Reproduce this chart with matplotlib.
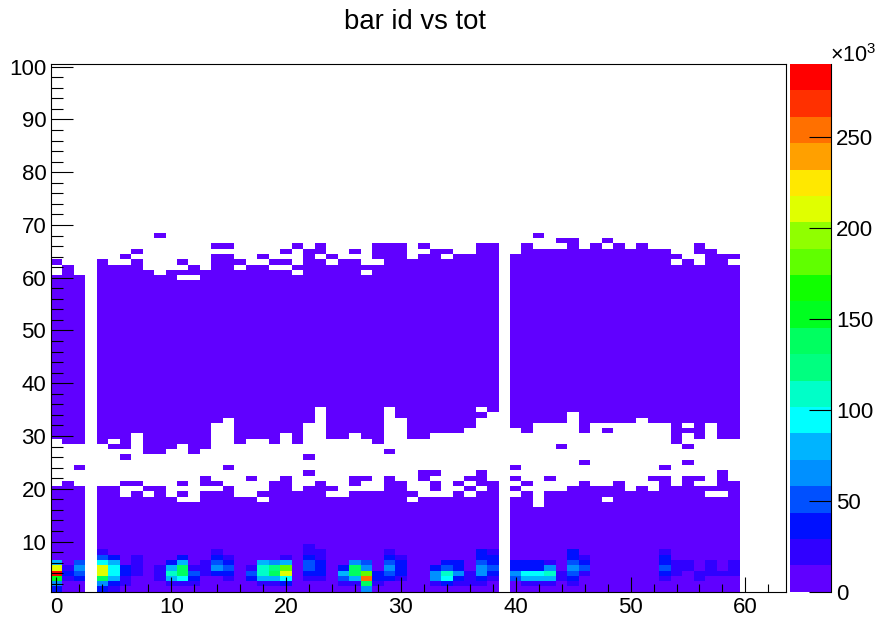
#!/usr/bin/env python3
"""
Render the bar id vs tot occupancy map (colz style) to out.png.
"""

import numpy as np
import matplotlib
matplotlib.use("Agg")
import matplotlib.pyplot as plt
from matplotlib.colors import ListedColormap, Normalize
from matplotlib.ticker import MultipleLocator

plt.rcParams["font.family"] = ["Liberation Sans", "DejaVu Sans"]
plt.rcParams["mathtext.default"] = "regular"

TITLE = "bar id vs tot"
N_COLS = 64
N_ROWS = 100
Z_MAX = 290.0
LOW_COUNT = 3.0  # thousands, everything outside the hot rows

# one entry per tot bin 0..59, None = empty column
LOWER_TOP = [20, 21, 20, None, 20, 20, 21, 21, 20, 20, 18, 21, 17, 22, 21, 20, 18, 18, 19, 21,
             22, 19, 20, 21, 20, 18, 22, 22, 19, 22, 21, 19, 23, 23, 18, 21, 22, 23, 21, None,
             24, 21, 16, 22, 19, 20, 21, 20, 20, 21, 19, 20, 22, 22, 20, 22, 22, 20, 23, 21]
UPPER_START = [30, 29, 29, None, 29, 30, 28, 31, 27, 27, 28, 29, 27, 28, 33, 34, 29, 30, 30, 29,
               31, 29, 33, 36, 30, 30, 31, 30, 29, 36, 34, 30, 30, 31, 31, 31, 32, 36, 35, None,
               32, 31, 33, 33, 33, 35, 31, 33, 33, 33, 33, 34, 33, 33, 29, 33, 30, 33, 30, 30]
UPPER_TOP = [60, 62, 60, None, 63, 62, 62, 63, 61, 60, 61, 61, 62, 61, 64, 64, 61, 62, 62, 61,
             61, 60, 65, 63, 62, 63, 63, 62, 62, 66, 66, 63, 64, 65, 63, 64, 64, 66, 66, None,
             64, 66, 65, 65, 65, 67, 65, 66, 65, 66, 65, 66, 65, 65, 62, 63, 62, 65, 64, 62]

# isolated filled bins (col, row) outside the two bands
EXTRA_BINS = [(0, 63), (6, 64), (7, 65), (9, 68), (11, 63), (14, 66), (15, 66), (16, 63), (18, 64),
              (19, 63), (20, 63), (20, 65), (21, 62), (21, 66), (23, 65), (23, 66), (24, 64), (26, 65),
              (28, 64), (28, 65), (28, 66), (32, 66), (34, 65), (42, 68), (44, 67), (48, 67), (56, 65),
              (56, 66), (54, 64), (59, 64),
              (5, 28), (37, 34), (48, 31), (55, 31), (55, 28), (55, 25),
              (6, 26), (22, 26), (29, 27), (2, 24), (15, 24), (22, 23), (17, 22),
              (44, 28), (46, 25), (40, 24), (53, 24)]

# empty bins (col, row) inside the two bands
HOLE_BINS = [(6, 20), (6, 19), (7, 20), (8, 19), (11, 20), (11, 18), (13, 20), (14, 20), (18, 18),
             (24, 19), (26, 20), (27, 21), (27, 20), (31, 18), (32, 21), (32, 20), (32, 19),
             (33, 22), (33, 19), (35, 20), (36, 21), (36, 19), (37, 20), (40, 23), (40, 21),
             (40, 19), (41, 20), (43, 21), (43, 20), (48, 18), (52, 21), (52, 20), (56, 21),
             (57, 19), (58, 19), (11, 60), (12, 60), (27, 61), (37, 35)]

# counts in thousands for rows 1,2,3... of the columns that stand out at low bar id
HOT_ROWS = {
    0: [37, 66, 154, 286, 212, 81],
    1: [3, 3, 22, 37, 22],
    2: [3, 3, 37, 51, 66, 51],
    4: [30, 66, 139, 212, 212, 95, 51, 22],
    5: [22, 37, 81, 95, 95, 81, 37],
    6: [3, 22, 22, 37, 37],
    7: [3, 3, 3, 22, 22, 22, 22],
    9: [3, 3, 22, 22, 22],
    10: [3, 22, 81, 110, 81, 37],
    11: [3, 22, 95, 139, 139, 81, 37],
    12: [3, 22, 37, 51, 22],
    13: [3, 3, 3, 22, 22, 22],
    14: [3, 3, 3, 37, 66, 51, 37, 22],
    15: [3, 3, 22, 37, 51, 37, 22],
    17: [3, 3, 37, 51, 22],
    18: [3, 22, 81, 110, 110, 81],
    19: [3, 22, 81, 139, 125, 66],
    20: [3, 37, 95, 212, 183, 81, 22],
    22: [3, 3, 22, 37, 51, 51, 37, 22, 22],
    23: [3, 3, 22, 37, 37, 37, 22, 22],
    25: [3, 22, 51, 81, 37],
    26: [3, 22, 81, 139, 139, 66],
    27: [66, 139, 250, 183, 66, 51],
    28: [3, 22, 37, 37],
    29: [3, 3, 37, 51, 66, 51, 30, 22],
    30: [3, 3, 22, 37, 37, 37, 22],
    33: [3, 22, 66, 66, 37],
    34: [3, 37, 95, 110, 51, 37],
    35: [3, 22, 37, 66, 37, 37],
    36: [3, 22, 22, 22],
    37: [3, 22, 37, 66, 66, 51, 37, 37],
    38: [3, 3, 22, 37, 51, 37, 37, 22],
    40: [3, 3, 51, 66, 37, 37],
    41: [3, 22, 81, 95, 37, 37],
    42: [3, 22, 81, 95, 37, 37],
    43: [3, 22, 81, 110, 66, 22],
    44: [3, 3, 22, 22],
    45: [3, 22, 37, 51, 66, 51, 37, 37],
    46: [3, 3, 3, 22, 51, 37, 22],
    53: [3, 3, 22, 37, 51, 37, 37, 22],
    54: [3, 3, 3, 22, 22, 22],
    55: [3, 3, 3, 3, 22, 22],
    56: [3, 3, 22, 22],
    57: [3, 3, 3, 22, 22, 22],
    58: [3, 3, 3, 22],
    59: [3, 3, 3, 22, 22, 22],
}

PALETTE = ["#6000ff", "#3000ff", "#0010ff", "#0050ff", "#0090ff", "#00b4ff", "#00ffff",
           "#00ffc8", "#00ff80", "#00ff60", "#00ff20", "#10ff00", "#60ff00", "#90ff00",
           "#e0ff00", "#ffe800", "#ffa000", "#ff7000", "#ff3000", "#ff0000"]


def build_counts():
    counts = np.full((N_ROWS, N_COLS), np.nan)
    for col in range(len(LOWER_TOP)):
        if LOWER_TOP[col] is None:
            continue
        counts[0:LOWER_TOP[col], col] = LOW_COUNT
        counts[UPPER_START[col] - 1:UPPER_TOP[col], col] = LOW_COUNT
    for col, row in EXTRA_BINS:
        counts[row - 1, col] = LOW_COUNT
    for col, row in HOLE_BINS:
        counts[row - 1, col] = np.nan
    for col, vals in HOT_ROWS.items():
        counts[:len(vals), col] = vals
    return counts


def main():
    counts = build_counts()
    x_edges = np.arange(N_COLS + 1) - 0.5
    y_edges = np.arange(N_ROWS + 1) + 0.5

    fig = plt.figure(figsize=(8.8, 6.18), dpi=100)
    ax = fig.add_axes([50.7 / 880, 1 - 591.7 / 618, 734.9 / 880, 527.7 / 618])
    cax = fig.add_axes([789.7 / 880, 1 - 591.7 / 618, 41.6 / 880, 527.7 / 618])

    cmap = ListedColormap(PALETTE)
    mesh = ax.pcolormesh(x_edges, y_edges, np.ma.masked_invalid(counts), cmap=cmap,
                         norm=Normalize(0, Z_MAX), linewidth=0, rasterized=True)
    ax.set_xlim(-0.5, 63.5)
    ax.set_ylim(0.5, 100.5)

    ax.xaxis.set_major_locator(MultipleLocator(10))
    ax.xaxis.set_minor_locator(MultipleLocator(2))
    ax.yaxis.set_major_locator(MultipleLocator(10))
    ax.yaxis.set_minor_locator(MultipleLocator(2))
    ax.set_yticks(np.arange(10, 101, 10))
    ax.tick_params(axis="x", which="major", direction="in", length=10.8, width=0.8, labelsize=16, pad=3.5)
    ax.tick_params(axis="x", which="minor", direction="in", length=5.5, width=0.8)
    ax.tick_params(axis="y", which="major", direction="in", length=15.8, width=0.8, labelsize=16, pad=3.2)
    ax.tick_params(axis="y", which="minor", direction="in", length=8.6, width=0.8)
    for spine in ax.spines.values():
        spine.set_linewidth(0.8)

    cbar = fig.colorbar(mesh, cax=cax, ticks=[0, 50, 100, 150, 200, 250])
    cbar.outline.set_visible(False)
    cax.spines["right"].set_visible(True)
    cax.spines["right"].set_linewidth(0.8)
    cax.tick_params(axis="y", direction="in", length=15.8, width=0.8, labelsize=16, pad=3.5, right=True)

    fig.text(415 / 880, 1 - 22 / 618, TITLE, fontsize=19.8, ha="center", va="center")
    fig.text(830 / 880, 1 - 62 / 618, r"$\times$10$^{3}$", fontsize=15.5, ha="left", va="baseline")

    fig.savefig("out.png", dpi=100)


if __name__ == "__main__":
    main()
